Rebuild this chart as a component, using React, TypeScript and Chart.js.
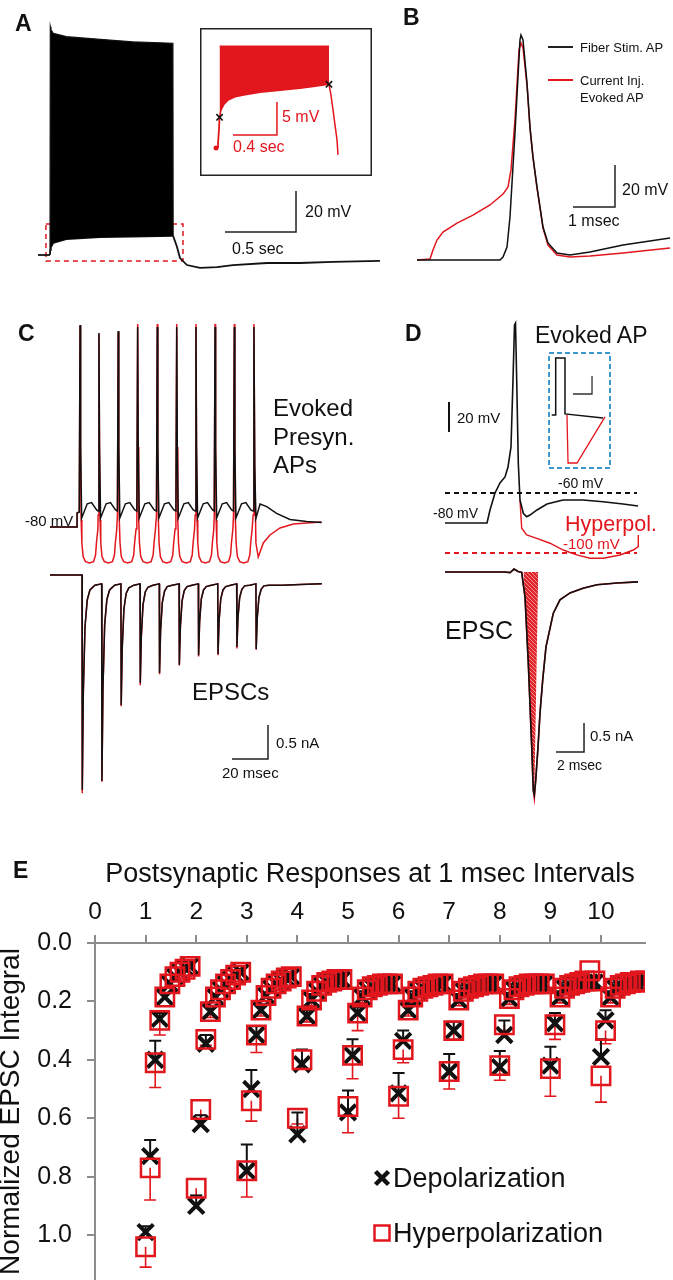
import React, { useEffect, useRef } from 'react';
import { Chart, registerables } from 'chart.js';

Chart.register(...registerables);

const FONT = "'Liberation Sans', Arial, Helvetica, sans-serif";
Chart.defaults.font.family = FONT;

const RED = '#e2161d';
const INK = '#111111';
const GRAY = '#8c8c8c';

/* ---------------- Panel A : train (s, mV) ---------------- */
const aPreT = [0, 0.0845];
const aPreV = [-80, -80];
const aTrainT = [0.0845, 0.0866, 0.0915, 0.108, 0.2, 0.437, 0.669, 0.95, 0.952];
const aTrainTopV = [-80, 31.4, 29.8, 28.1, 26.5, 25.2, 24.0, 23.3, -70.7];
const aTrainBotV = [-80, -77.6, -76.3, -74.1, -72.3, -71.4, -71.1, -70.7, -70.7];
const aPostT = [0.952, 0.979, 1.0, 1.049, 1.141, 1.261, 1.373, 1.613, 1.845, 2.077, 2.408];
const aPostV = [-70.7, -76.1, -81.5, -84.9, -86.3, -85.9, -84.9, -83.9, -83.9, -83.4, -82.9];
const aZoomT = [0.056, 1.021, 1.021, 0.056, 0.056];
const aZoomV = [-64.9, -64.9, -82.9, -82.9, -64.9];
const aBarT = [1.317, 1.817, 1.817]; // 0.5 sec
const aBarV = [-68.8, -68.8, -48.8]; // 20 mV

/* Panel A inset (s, mV) */
const insPreT = [-0.009, 0, 0.009, 0.018, 0.023];
const insPreV = [-80.15, -80, -79.5, -77.4, -75.5];
const insEnvT = [0.023, 0.036, 0.064, 0.1, 0.164, 0.255, 0.391, 0.573, 0.755, 0.891, 1.018];
const insEnvV = [-75.5, -74.4, -73.5, -72.9, -72.4, -72.1, -71.7, -71.4, -71.1, -70.8, -70.5];
const insClipV = -64.7;
const insPostT = [1.018, 1.036, 1.055, 1.073, 1.091, 1.1];
const insPostV = [-70.5, -72.1, -74.4, -76.7, -78.9, -81.2];
const insMarkT = [0.023, 1.018];
const insMarkV = [-75.5, -70.5];
const insBarT = [0.145, 0.545, 0.545]; // 0.4 sec
const insBarV = [-78.2, -78.2, -73.2]; // 5 mV

/* ---------------- Panel B (ms, mV) ---------------- */
const bBlackT = [0, 1.976, 2.048, 2.143, 2.214, 2.333, 2.452, 2.476, 2.524, 2.619, 2.69, 2.762, 2.857, 2.929, 3.0, 3.119, 3.333, 3.643, 4.119, 4.905, 6.024];
const bBlackV = [-80, -80, -78.6, -73.8, -59.5, -19.5, 24.8, 27.1, 24.8, 4.3, -16.7, -31, -45.2, -54.8, -64.3, -71.9, -76.7, -77.6, -76.2, -72.9, -69.5];
const bRedT = [0, 0.31, 0.381, 0.476, 0.619, 0.952, 1.333, 1.738, 2.048, 2.167, 2.238, 2.333, 2.429, 2.476, 2.524, 2.619, 2.69, 2.762, 2.857, 2.929, 3.0, 3.119, 3.333, 3.643, 4.119, 4.905, 6.024];
const bRedV = [-80, -79.5, -75.2, -70.5, -66.7, -62.4, -58.6, -53.8, -48.6, -45.2, -37.1, -13.3, 20, 23.3, 21, 3.3, -17.1, -31.4, -45.7, -55.2, -64.8, -72.9, -77.6, -78.6, -78.1, -76.7, -74.3];
const bBarT = [3.714, 4.714, 4.714]; // 1 msec
const bBarV = [-54.76, -54.76, -34.76]; // 20 mV

/* ---------------- Panel C top : presynaptic APs (ms, mV) ---------------- */
const cStartT = [-15, 0, 0.05, 1.25];
const cStartV = [-80, -80, -73, -72.5];
const cSpikeT = [1.7, 12.2, 22.9, 33.7, 44.6, 55.4, 66.1, 76.7, 87.4, 98.3];
const cBlackPeak = [21, 17, 18, 20, 20, 20, 20, 20, 20, 20];
const cRedPeak = [20.5, 16.5, 17.5, 21.5, 21.5, 21.5, 21.5, 21.5, 21.5, 21.5];
const cBlackCycleDT = [0.3, 0.9, 4.0, 6.4, 9.2];
const cBlackCycleV = [-40, -75.5, -68.4, -67.8, -71.5];
const cBlackPre = -72;
const cRedCycleDT = [0.3, 0.6, 1.0, 1.7, 3.0, 5.2, 7.5, 8.6, 9.1, 9.9];
const cRedCycleV = [-40, -76.5, -88, -94.8, -97.3, -98, -97.3, -94, -88, -81];
const cRedPre = -74;
const cBlackTailT = [98.75, 99.4, 101.7, 105.4, 110.9, 118.3, 127.6, 135.9];
const cBlackTailV = [-50, -75.7, -68.5, -69.8, -73.2, -76.2, -77.3, -77.7];
const cRedTailT = [98.75, 99.4, 100.7, 103.5, 107.2, 112.8, 120.2, 127.6, 135.9];
const cRedTailV = [-50, -88, -95, -88, -84, -80.5, -78.5, -78, -77.5];

/* ---------------- Panel C bottom : EPSCs (ms, nA) ---------------- */
const cIBaseT = [-15, 2.7];
const cIBaseV = [0, 0];
const cEpscT = [2.78, 13.7, 24.4, 35.0, 45.7, 56.7, 67.4, 78.2, 88.7, 99.4];
const cEpscBlack = [-3.16, -3.03, -1.91, -1.59, -1.44, -1.32, -1.18, -1.16, -1.06, -1.09];
const cEpscRed = [-3.21, -3.04, -1.93, -1.62, -1.46, -1.33, -1.2, -1.18, -1.08, -1.1];
const cRecDT = [0.72, 1.67, 2.9, 4.4, 7.2];
const cRec = [
  [-1.74, -0.76, -0.37, -0.22, -0.15],
  [-1.67, -0.73, -0.36, -0.22, -0.15],
  [-1.08, -0.5, -0.27, -0.19, -0.15],
  [-0.91, -0.44, -0.25, -0.18, -0.15],
  [-0.83, -0.41, -0.24, -0.17, -0.15],
  [-0.77, -0.38, -0.23, -0.17, -0.15],
  [-0.69, -0.35, -0.22, -0.17, -0.15],
  [-0.68, -0.35, -0.22, -0.17, -0.15],
  [-0.63, -0.33, -0.21, -0.16, -0.15],
  [-0.64, -0.33, -0.21, -0.16, -0.15],
];
const cIPre = -0.13;
const cITailT = [114, 124, 136];
const cITailV = [-0.15, -0.14, -0.13];
const cIBarT = [86.1, 106.1, 106.1]; // 20 msec
const cIBarV = [-2.706, -2.706, -2.206]; // 0.5 nA

/* ---------------- Panel D top : evoked AP (ms, mV) ---------------- */
const dApT = [0, 3.0, 3.214, 3.571, 3.929, 4.286, 4.5, 4.714, 4.857, 4.964, 5.036, 5.121, 5.236, 5.357];
const dApV = [-80, -80, -71.3, -60, -53.3, -49.3, -42.7, -29.3, 15.3, 52, 53.3, 15.3, -40.2, -64.7];
const dBlackTailT = [5.357, 5.593, 5.836, 6.071, 6.571, 7.286, 8.429, 9.857, 11.286, 12.714, 13.786];
const dBlackTailV = [-64.7, -73.5, -75.8, -74.7, -71.3, -67.3, -64.7, -64.7, -65.8, -67.3, -68.7];
const dRedTailT = [5.357, 5.479, 5.836, 6.55, 7.5, 8.45, 9.407, 10.357, 11.307, 12.5, 13.45, 13.807, 13.807];
const dRedTailV = [-64.7, -83.5, -88, -90.2, -93.5, -98, -101.3, -103.5, -103.5, -101.3, -98, -95.8, -88];
const dRefT = [0, 13.71];
const dDepolLevel = -60;
const dHyperLevel = -100;
const dVBarT = [0.286, 0.286];
const dVBarV = [-19.3, 0.7]; // 20 mV

/* Panel D bottom : EPSC (ms, nA) */
const dEpscT = [0, 4.286, 4.643, 4.786, 4.929, 5.071, 5.214, 5.479, 5.714, 5.95, 6.193, 6.307, 6.379, 6.479, 6.643, 6.786, 6.979, 7.214, 7.736, 8.214, 8.929, 9.857, 10.857, 12.286, 13.786];
const dEpscV = [0, 0, -0.01, 0.02, 0.05, 0.03, 0.01, -0.005, -0.43, -1.57, -3.01, -3.76, -3.84, -3.59, -3.02, -2.43, -1.86, -1.29, -0.71, -0.48, -0.36, -0.28, -0.22, -0.19, -0.17];
const dEpscRedTip = -3.9;
const dHatchT = [5.6, 5.714, 5.95, 6.193, 6.379, 6.66];
const dHatchV = [0, -0.43, -1.57, -3.01, -3.84, 0];
const dIBarT = [7.93, 9.93, 9.93]; // 2 msec
const dIBarV = [-3.103, -3.103, -2.603]; // 0.5 nA

/* Panel D inset : stimulus schematic (arbitrary units) */
const dInsBlackX = [0.6, 1.24, 1.24, 2.74, 2.74, 8.87];
const dInsBlackY = [4.57, 4.57, 9.48, 9.48, 4.66, 4.31];
const dInsRedX = [3.06, 3.23, 4.68, 9.19];
const dInsRedY = [4.57, 0.43, 0.43, 4.4];
const dInsBarX = [4.03, 7.1, 7.1];
const dInsBarY = [6.38, 6.38, 7.93];

/* ---------------- Panel E ---------------- */
const eXTitle = 'Postsynaptic Responses at 1 msec Intervals';
const eYTitle = 'Normalized EPSC Integral';
const eXTicks = [0, 1, 2, 3, 4, 5, 6, 7, 8, 9, 10];
const eYTicks = [0, 0.2, 0.4, 0.6, 0.8, 1.0];
const ePulseStarts = [1, 2, 3, 4, 5, 6, 7, 8, 9, 10];
const eOffsets = [0, 0.09, 0.19, 0.28, 0.38, 0.48, 0.58, 0.68, 0.78, 0.88];
const depolVals = [
  [0.99, 0.73, 0.4, 0.26, 0.185, 0.14, 0.115, 0.1, 0.085, 0.08],
  [0.9, 0.62, 0.345, 0.235, 0.185, 0.16, 0.14, 0.125, 0.11, 0.1],
  [0.78, 0.5, 0.315, 0.23, 0.18, 0.155, 0.14, 0.13, 0.12, 0.115],
  [0.655, 0.415, 0.25, 0.195, 0.165, 0.145, 0.135, 0.13, 0.125, 0.125],
  [0.58, 0.385, 0.24, 0.185, 0.16, 0.15, 0.145, 0.14, 0.14, 0.14],
  [0.515, 0.335, 0.23, 0.185, 0.165, 0.155, 0.15, 0.145, 0.14, 0.14],
  [0.44, 0.3, 0.195, 0.165, 0.155, 0.15, 0.145, 0.14, 0.14, 0.14],
  [0.425, 0.315, 0.19, 0.16, 0.15, 0.145, 0.14, 0.14, 0.14, 0.14],
  [0.42, 0.275, 0.185, 0.155, 0.145, 0.14, 0.14, 0.135, 0.135, 0.135],
  [0.39, 0.265, 0.185, 0.155, 0.145, 0.14, 0.135, 0.135, 0.13, 0.13],
];
const hyperVals = [
  [1.04, 0.77, 0.41, 0.265, 0.185, 0.14, 0.115, 0.1, 0.09, 0.08],
  [0.84, 0.57, 0.33, 0.235, 0.185, 0.16, 0.14, 0.125, 0.11, 0.1],
  [0.78, 0.54, 0.315, 0.23, 0.18, 0.155, 0.14, 0.13, 0.12, 0.115],
  [0.6, 0.4, 0.25, 0.195, 0.165, 0.145, 0.135, 0.13, 0.125, 0.125],
  [0.56, 0.385, 0.24, 0.185, 0.16, 0.15, 0.145, 0.14, 0.14, 0.14],
  [0.525, 0.365, 0.23, 0.185, 0.165, 0.155, 0.15, 0.145, 0.14, 0.14],
  [0.44, 0.3, 0.195, 0.165, 0.155, 0.15, 0.145, 0.14, 0.14, 0.14],
  [0.42, 0.28, 0.19, 0.16, 0.15, 0.145, 0.14, 0.14, 0.14, 0.14],
  [0.43, 0.28, 0.185, 0.155, 0.145, 0.14, 0.135, 0.13, 0.095, 0.13],
  [0.455, 0.3, 0.185, 0.155, 0.145, 0.14, 0.135, 0.135, 0.13, 0.13],
];
const depolErr = [
  [0.02, 0.055, 0.065, 0.02],
  [0.035, 0.03, 0.03, 0.02],
  [0.09, 0.065, 0.03, 0.02],
  [0.075, 0.05, 0.02, 0.02],
  [0.075, 0.055, 0.02, 0.02],
  [0.07, 0.035, 0.02, 0.02],
  [0.06, 0.03, 0.02, 0.02],
  [0.055, 0.05, 0.02, 0.02],
  [0.065, 0.035, 0.02, 0.02],
  [0.06, 0.035, 0.02, 0.02],
];
const hyperErr = [
  [0.07, 0.11, 0.085, 0.05],
  [0.025, 0.02, 0.02, 0.02],
  [0.09, 0.07, 0.06, 0.02],
  [0.02, 0.03, 0.02, 0.02],
  [0.09, 0.08, 0.06, 0.02],
  [0.075, 0.045, 0.02, 0.02],
  [0.06, 0.03, 0.02, 0.02],
  [0.05, 0.02, 0.02, 0.02],
  [0.095, 0.05, 0.02, 0.02],
  [0.09, 0.045, 0.02, 0.02],
];

/* ---------------- helpers ---------------- */
type Pt = { x: number; y: number };
const pts = (xs: number[], ys: number[]): Pt[] => xs.map((x, i) => ({ x, y: ys[i] }));
const lineDs = (data: Pt[], color: any, width = 1.5, extra: any = {}) => ({
  data,
  borderColor: color,
  backgroundColor: color,
  borderWidth: width,
  showLine: true,
  pointRadius: 0,
  pointHoverRadius: 0,
  fill: false,
  tension: 0,
  ...extra,
});

function buildSpikeTrain(peaks: number[], cycleDT: number[], cycleV: number[], pre: number, tailT: number[], tailV: number[]): Pt[] {
  const out: Pt[] = pts(cStartT, cStartV);
  cSpikeT.forEach((ts, i) => {
    if (i > 0) out.push({ x: ts - 0.45, y: pre });
    out.push({ x: ts, y: peaks[i] });
    if (i < cSpikeT.length - 1) cycleDT.forEach((dt, j) => out.push({ x: ts + dt, y: cycleV[j] }));
  });
  return out.concat(pts(tailT, tailV));
}

function buildEpscs(tips: number[]): Pt[] {
  const out: Pt[] = pts(cIBaseT, cIBaseV);
  cEpscT.forEach((t0, i) => {
    out.push({ x: t0, y: i === 0 ? 0 : cIPre });
    out.push({ x: t0 + 0.15, y: tips[i] });
    cRecDT.forEach((dt, j) => out.push({ x: t0 + dt, y: cRec[i][j] }));
  });
  return out.concat(pts(cITailT, cITailV));
}

function hatchPattern(): any {
  const p = document.createElement('canvas');
  p.width = 4;
  p.height = 4;
  const g = p.getContext('2d');
  if (!g) return RED;
  g.fillStyle = '#e0262a';
  g.fillRect(0, 0, 4, 4);
  g.strokeStyle = 'rgba(255,200,200,0.85)';
  g.lineWidth = 0.8;
  g.beginPath();
  g.moveTo(0, 0);
  g.lineTo(4, 4);
  g.stroke();
  return g.createPattern(p, 'repeat') || RED;
}

const framePlugin = (color: string, width: number, dash: number[]) => ({
  id: 'frame',
  afterDraw(chart: any) {
    const { ctx, width: w, height: h } = chart;
    ctx.save();
    ctx.strokeStyle = color;
    ctx.lineWidth = width;
    ctx.setLineDash(dash);
    ctx.strokeRect(width / 2, width / 2, w - width, h - width);
    ctx.restore();
  },
});

type Box = { left: number; top: number; width: number; height: number };
type PxMap = { ox: number; sx: number; oy: number; sy: number; ref: number };

function TraceChart({ box, map, build, plugins }: { box: Box; map: PxMap; build: () => any[]; plugins?: any[] }) {
  const ref = useRef<HTMLCanvasElement | null>(null);
  useEffect(() => {
    const c = ref.current;
    if (!c) return;
    const xMin = (box.left - map.ox) / map.sx;
    const xMax = (box.left + box.width - map.ox) / map.sx;
    const yMax = map.ref + (map.oy - box.top) / map.sy;
    const yMin = map.ref - (box.top + box.height - map.oy) / map.sy;
    const chart = new Chart(c, {
      type: 'scatter',
      data: { datasets: build() },
      options: {
        animation: false,
        responsive: false,
        events: [],
        layout: { padding: 0, autoPadding: false },
        plugins: { legend: { display: false }, tooltip: { enabled: false } },
        scales: {
          x: { type: 'linear', display: false, min: xMin, max: xMax },
          y: { type: 'linear', display: false, min: yMin, max: yMax },
        },
      } as any,
      plugins: plugins || [],
    });
    return () => chart.destroy();
  }, []);
  return (
    <canvas
      ref={ref}
      width={box.width}
      height={box.height}
      style={{ position: 'absolute', left: box.left, top: box.top, width: box.width, height: box.height }}
    />
  );
}

/* ---------------- Panel E chart ---------------- */
const ePoints = (vals: number[][]): Pt[] =>
  vals.flatMap((row, g) => row.map((v, j) => ({ x: ePulseStarts[g] + eOffsets[j], y: v })));

const eErrorBars = {
  id: 'eErrorBars',
  beforeDatasetsDraw(chart: any) {
    const { ctx } = chart;
    const xs = chart.scales.x;
    const ys = chart.scales.y;
    const drawSet = (vals: number[][], errs: number[][], sign: number, color: string, lw: number) => {
      ctx.save();
      ctx.strokeStyle = color;
      ctx.lineWidth = lw;
      vals.forEach((row, g) =>
        row.forEach((v, j) => {
          const e = errs[g][j] || 0;
          if (!e) return;
          const px = xs.getPixelForValue(ePulseStarts[g] + eOffsets[j]);
          const p0 = ys.getPixelForValue(v);
          const p1 = ys.getPixelForValue(v + sign * e);
          ctx.beginPath();
          ctx.moveTo(px, p0);
          ctx.lineTo(px, p1);
          ctx.moveTo(px - 6, p1);
          ctx.lineTo(px + 6, p1);
          ctx.stroke();
        })
      );
      ctx.restore();
    };
    drawSet(hyperVals, hyperErr, 1, RED, 1.6);
    drawSet(depolVals, depolErr, -1, INK, 2);
  },
};

const eLegendMarks = {
  id: 'eLegendMarks',
  afterDraw(chart: any) {
    const { ctx } = chart;
    ctx.save();
    ctx.strokeStyle = INK;
    ctx.lineWidth = 4.5;
    const cx = 382;
    const cy = 328;
    ctx.beginPath();
    ctx.moveTo(cx - 6.5, cy - 6.5);
    ctx.lineTo(cx + 6.5, cy + 6.5);
    ctx.moveTo(cx + 6.5, cy - 6.5);
    ctx.lineTo(cx - 6.5, cy + 6.5);
    ctx.stroke();
    ctx.strokeStyle = RED;
    ctx.lineWidth = 2.5;
    ctx.strokeRect(cx - 7.5, 383 - 7.5, 15, 15);
    ctx.restore();
  },
};

function EChart() {
  const ref = useRef<HTMLCanvasElement | null>(null);
  useEffect(() => {
    const c = ref.current;
    if (!c) return;
    const gridOpts = { drawOnChartArea: false, drawTicks: true, tickLength: 8, color: GRAY, lineWidth: 2 };
    const borderOpts = { display: true, color: GRAY, width: 2 };
    const chart = new Chart(c, {
      type: 'scatter',
      data: {
        datasets: [
          {
            label: 'Hyperpolarization',
            data: ePoints(hyperVals),
            showLine: false,
            pointStyle: 'rect',
            pointRadius: 13,
            pointHoverRadius: 13,
            pointBorderWidth: 2.5,
            pointBorderColor: RED,
            pointBackgroundColor: 'rgba(0,0,0,0)',
            borderColor: RED,
          },
          {
            label: 'Depolarization',
            data: ePoints(depolVals),
            showLine: false,
            pointStyle: 'crossRot',
            pointRadius: 11,
            pointHoverRadius: 11,
            pointBorderWidth: 4,
            pointBorderColor: INK,
            pointBackgroundColor: INK,
            borderColor: INK,
          },
        ],
      },
      options: {
        animation: false,
        responsive: false,
        events: [],
        layout: { padding: { left: 0, right: 28, top: 0, bottom: 0 }, autoPadding: false },
        plugins: { legend: { display: false }, tooltip: { enabled: false } },
        scales: {
          x: {
            type: 'linear',
            position: 'top',
            min: 0,
            max: 10.87,
            afterBuildTicks: (s: any) => {
              s.ticks = eXTicks.map((v) => ({ value: v }));
            },
            afterFit: (s: any) => {
              s.height = 93;
              s.paddingLeft = 0;
              s.paddingRight = 0;
            },
            grid: gridOpts,
            border: borderOpts,
            ticks: {
              color: INK,
              font: { size: 24.5 },
              padding: 8,
              maxRotation: 0,
              autoSkip: false,
              callback: (v: any) => String(v),
            },
            title: {
              display: true,
              text: eXTitle,
              color: INK,
              font: { size: 27 },
              padding: { top: 8, bottom: 0 },
            },
          },
          y: {
            type: 'linear',
            position: 'left',
            reverse: true,
            min: 0,
            max: 1.154,
            afterBuildTicks: (s: any) => {
              s.ticks = eYTicks.map((v) => ({ value: v }));
            },
            afterFit: (s: any) => {
              s.width = 95;
              s.paddingTop = 0;
              s.paddingBottom = 0;
            },
            grid: gridOpts,
            border: borderOpts,
            ticks: {
              color: INK,
              font: { size: 25 },
              padding: 15,
              autoSkip: false,
              callback: (v: any) => Number(v).toFixed(1),
            },
            title: {
              display: true,
              text: eYTitle,
              color: INK,
              font: { size: 28, lineHeight: 0.82 },
              padding: 0,
            },
          },
        },
      } as any,
      plugins: [eErrorBars, eLegendMarks],
    });
    return () => chart.destroy();
  }, []);
  return (
    <canvas
      ref={ref}
      width={673}
      height={430}
      style={{ position: 'absolute', left: 0, top: 850, width: 673, height: 430 }}
    />
  );
}

/* ---------------- labels ---------------- */
type Lbl = { t: string; x: number; y: number; s: number; c?: string; b?: boolean };
const labels: Lbl[] = [
  { t: 'A', x: 15, y: 23, s: 23, b: true },
  { t: 'B', x: 403, y: 17, s: 23, b: true },
  { t: 'C', x: 18, y: 333, s: 23, b: true },
  { t: 'D', x: 405, y: 333, s: 23, b: true },
  { t: 'E', x: 13, y: 870, s: 23, b: true },
  { t: '5 mV', x: 282, y: 117, s: 16, c: RED },
  { t: '0.4 sec', x: 233, y: 147, s: 16, c: RED },
  { t: '20 mV', x: 305, y: 212, s: 16 },
  { t: '0.5 sec', x: 232, y: 249, s: 16 },
  { t: 'Fiber Stim. AP', x: 580, y: 47, s: 13 },
  { t: 'Current Inj.', x: 580, y: 80, s: 13 },
  { t: 'Evoked AP', x: 580, y: 97, s: 13 },
  { t: '20 mV', x: 622, y: 190, s: 16 },
  { t: '1 msec', x: 568, y: 221, s: 16 },
  { t: '-80 mV', x: 25, y: 520, s: 15 },
  { t: 'Evoked', x: 273, y: 408, s: 24 },
  { t: 'Presyn.', x: 273, y: 437, s: 24 },
  { t: 'APs', x: 273, y: 465, s: 24 },
  { t: 'EPSCs', x: 192, y: 692, s: 24 },
  { t: '0.5 nA', x: 276, y: 742, s: 15 },
  { t: '20 msec', x: 222, y: 772, s: 15 },
  { t: 'Evoked AP', x: 535, y: 335, s: 23 },
  { t: '20 mV', x: 457, y: 417, s: 15 },
  { t: '-60 mV', x: 558, y: 483, s: 14 },
  { t: '-80 mV', x: 433, y: 513, s: 14 },
  { t: 'Hyperpol.', x: 565, y: 525, s: 21.5, c: RED },
  { t: '-100 mV', x: 563, y: 543, s: 15, c: RED },
  { t: 'EPSC', x: 445, y: 630, s: 25 },
  { t: '0.5 nA', x: 590, y: 735, s: 15 },
  { t: '2 msec', x: 557, y: 765, s: 14 },
  { t: 'Depolarization', x: 393, y: 1178, s: 27 },
  { t: 'Hyperpolarization', x: 393, y: 1233, s: 27 },
];

export default function App() {
  return (
    <div
      style={{
        position: 'absolute',
        left: 0,
        top: 0,
        width: 673,
        height: 1280,
        background: '#ffffff',
        overflow: 'hidden',
        fontFamily: FONT,
        color: INK,
      }}
    >
      {/* Panel A main */}
      <TraceChart
        box={{ left: 30, top: 15, width: 360, height: 265 }}
        map={{ ox: 38, sx: 142, oy: 255, sy: 2.05, ref: -80 }}
        build={() => [
          lineDs(pts(aTrainT, aTrainTopV), INK, 1.2, { fill: '+1', backgroundColor: '#000' }),
          lineDs(pts(aTrainT, aTrainBotV), INK, 1.5),
          lineDs(pts(aPreT, aPreV), INK, 1.8),
          lineDs(pts(aPostT, aPostV), INK, 1.8),
          lineDs(pts(aZoomT, aZoomV), RED, 1.5, { borderDash: [5, 4] }),
          lineDs(pts(aBarT, aBarV), '#222', 1.5),
        ]}
      />
      {/* Panel A inset */}
      <TraceChart
        box={{ left: 200, top: 28, width: 172, height: 148 }}
        map={{ ox: 217, sx: 110, oy: 147, sy: 6.6, ref: -80 }}
        plugins={[framePlugin('#222', 1.5, [])]}
        build={() => [
          {
            data: pts(insMarkT, insMarkV),
            showLine: false,
            pointStyle: 'crossRot',
            pointRadius: 4.5,
            pointBorderWidth: 1.6,
            pointBorderColor: INK,
            borderColor: INK,
          },
          lineDs(pts(insEnvT, insEnvT.map(() => insClipV)), RED, 1, { fill: '+1', backgroundColor: RED }),
          lineDs(pts(insEnvT, insEnvV), RED, 1.5),
          lineDs(pts(insPreT, insPreV), RED, 1.8, { pointRadius: [2.5, 0, 0, 0, 0], pointBackgroundColor: RED, pointBorderWidth: 0 }),
          lineDs(pts(insPostT, insPostV), RED, 1.5),
          lineDs(pts(insBarT, insBarV), RED, 1.5),
        ]}
      />
      {/* Panel B */}
      <TraceChart
        box={{ left: 395, top: 20, width: 278, height: 255 }}
        map={{ ox: 417, sx: 42, oy: 260, sy: 2.1, ref: -80 }}
        build={() => [
          lineDs(pts(bBlackT, bBlackV), INK, 1.5),
          lineDs(pts(bRedT, bRedV), RED, 1.5),
          lineDs(pts(bBarT, bBarV), '#222', 1.5),
        ]}
      />
      <div style={{ position: 'absolute', left: 548, top: 46, width: 25, height: 1.5, background: '#222' }} />
      <div style={{ position: 'absolute', left: 548, top: 79, width: 25, height: 1.5, background: RED }} />
      {/* Panel C top */}
      <TraceChart
        box={{ left: 45, top: 300, width: 285, height: 270 }}
        map={{ ox: 77, sx: 1.8, oy: 527, sy: 2, ref: -80 }}
        build={() => [
          lineDs(buildSpikeTrain(cBlackPeak, cBlackCycleDT, cBlackCycleV, cBlackPre, cBlackTailT, cBlackTailV), INK, 1.5),
          lineDs(buildSpikeTrain(cRedPeak, cRedCycleDT, cRedCycleV, cRedPre, cRedTailT, cRedTailV), RED, 1.5),
        ]}
      />
      {/* Panel C bottom */}
      <TraceChart
        box={{ left: 45, top: 570, width: 285, height: 235 }}
        map={{ ox: 77, sx: 1.8, oy: 575, sy: 68, ref: 0 }}
        build={() => [
          lineDs(buildEpscs(cEpscBlack), INK, 1.5),
          lineDs(buildEpscs(cEpscRed), RED, 1.5),
          lineDs(pts(cIBarT, cIBarV), '#222', 1.5),
        ]}
      />
      {/* Panel D top */}
      <TraceChart
        box={{ left: 425, top: 305, width: 248, height: 260 }}
        map={{ ox: 445, sx: 14, oy: 523, sy: 1.5, ref: -80 }}
        build={() => [
          lineDs(pts(dApT, dApV), INK, 1.6),
          lineDs(pts(dBlackTailT, dBlackTailV), INK, 1.6),
          lineDs(pts(dRedTailT, dRedTailV), RED, 1.4),
          lineDs(pts(dRefT, dRefT.map(() => dDepolLevel)), INK, 2, { borderDash: [5, 4] }),
          lineDs(pts(dRefT, dRefT.map(() => dHyperLevel)), RED, 2, { borderDash: [5, 4] }),
          lineDs(pts(dVBarT, dVBarV), INK, 2),
        ]}
      />
      {/* Panel D bottom */}
      <TraceChart
        box={{ left: 425, top: 562, width: 248, height: 248 }}
        map={{ ox: 445, sx: 14, oy: 572, sy: 58, ref: 0 }}
        build={() => [
          lineDs(pts(dEpscT, dEpscV), INK, 1.6),
          lineDs(pts(dEpscT, dEpscV.map((v, i) => (i === 12 ? dEpscRedTip : v))), RED, 1.6),
          lineDs(pts(dHatchT, dHatchV), 'rgba(0,0,0,0)', 0, { fill: 'origin', backgroundColor: hatchPattern() }),
          lineDs(pts(dIBarT, dIBarV), '#222', 1.5),
        ]}
      />
      {/* Panel D inset */}
      <TraceChart
        box={{ left: 548, top: 352, width: 63, height: 117 }}
        map={{ ox: 548, sx: 6.2, oy: 468, sy: 11.6, ref: 0 }}
        plugins={[framePlugin('#3c98cf', 2, [5, 3])]}
        build={() => [
          lineDs(pts(dInsBlackX, dInsBlackY), INK, 1.5),
          lineDs(pts(dInsRedX, dInsRedY), RED, 1.3),
          lineDs(pts(dInsBarX, dInsBarY), '#333', 1.3),
        ]}
      />
      {/* Panel E */}
      <EChart />
      {labels.map((l, i) => (
        <div
          key={i}
          style={{
            position: 'absolute',
            left: l.x,
            top: l.y,
            transform: 'translateY(-50%)',
            fontSize: l.s,
            lineHeight: 1,
            whiteSpace: 'nowrap',
            color: l.c || INK,
            fontWeight: l.b ? 700 : 400,
          }}
        >
          {l.t}
        </div>
      ))}
    </div>
  );
}
